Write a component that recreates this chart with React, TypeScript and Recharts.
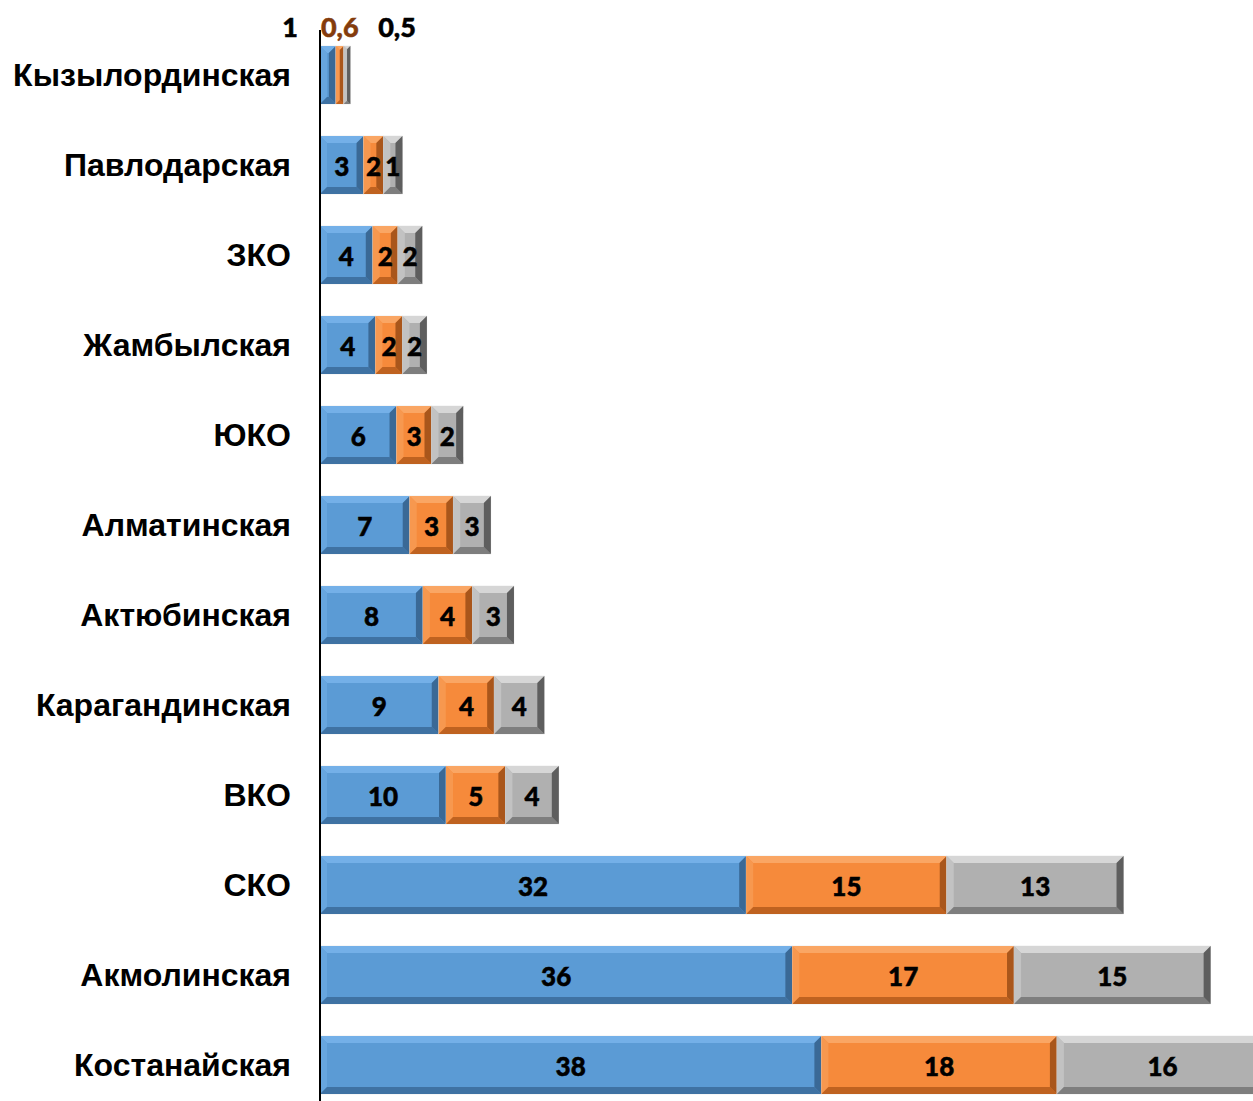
import { Bar, BarChart, LabelList, XAxis, YAxis } from "recharts";

// regions, top to bottom
const regions = [
    "Кызылординская",
    "Павлодарская",
    "ЗКО",
    "Жамбылская",
    "ЮКО",
    "Алматинская",
    "Актюбинская",
    "Карагандинская",
    "ВКО",
    "СКО",
    "Акмолинская",
    "Костанайская",
];

const blueValues = [1.2, 3.3, 4.0, 4.2, 5.8, 6.8, 7.8, 9.0, 9.55, 32.3, 35.8, 38.0];
const orangeValues = [0.6, 1.5, 1.9, 2.05, 2.65, 3.3, 3.75, 4.2, 4.5, 15.2, 16.8, 17.85];
const grayValues = [0.5, 1.45, 1.85, 1.85, 2.4, 2.85, 3.15, 3.8, 4.05, 13.4, 14.9, 16.0];

const data = regions.map((name, i) => ({
    name,
    blue: blueValues[i],
    orange: orangeValues[i],
    gray: grayValues[i],
}));

const palettes = {
    blue: { base: "#5B9BD5", top: "#74B0E8", left: "#67A6DF", bottom: "#3F72A3", right: "#3A6996" },
    orange: { base: "#F68A3B", top: "#FAA664", left: "#F7984F", bottom: "#BF6220", right: "#A9561B" },
    gray: { base: "#B0B0B0", top: "#D6D6D6", left: "#C2C2C2", bottom: "#7E7E7E", right: "#5E5E5E" },
};

const makeBevel = (p) => (props) => {
    const { x, y, width, height } = props;
    if (!width || width <= 0) return null;
    const b = Math.min(7, width / 2, height / 2);
    const x2 = x + width;
    const y2 = y + height;
    return (
        <g>
            <rect x={x} y={y} width={width} height={height} fill={p.base} stroke="#e4e4e4" strokeWidth={0.6} />
            <polygon points={`${x},${y} ${x2},${y} ${x2 - b},${y + b} ${x + b},${y + b}`} fill={p.top} />
            <polygon points={`${x},${y} ${x + b},${y + b} ${x + b},${y2 - b} ${x},${y2}`} fill={p.left} />
            <polygon points={`${x},${y2} ${x + b},${y2 - b} ${x2 - b},${y2 - b} ${x2},${y2}`} fill={p.bottom} />
            <polygon points={`${x2},${y} ${x2},${y2} ${x2 - b},${y2 - b} ${x2 - b},${y + b}`} fill={p.right} />
        </g>
    );
};

const fmt = (v) => (v >= 1 ? String(Math.round(v)) : v.toFixed(1).replace(".", ","));

const makeLabel = (series) => (props) => {
    const { x, y, width, height, value, index } = props;
    const style = { fontFamily: "Lato, 'Open Sans', sans-serif", fontWeight: 900, fontSize: 26 };
    if (index === 0) {
        // first row: labels sit above the thin bar
        let lx = x + width / 2;
        let anchor = "middle";
        let fill = "#000";
        if (series === "blue") {
            lx = x - 22;
            anchor = "end";
        } else if (series === "orange") {
            fill = "#843C0C";
        } else {
            lx = x + width / 2 + 50;
        }
        return (
            <text x={lx} y={y - 20} textAnchor={anchor} dominantBaseline="central" fill={fill} stroke={fill} strokeWidth={0.5} style={{ ...style, fontSize: 27 }}>
                {fmt(value)}
            </text>
        );
    }
    return (
        <text x={x + width / 2} y={y + height / 2 + 1} textAnchor="middle" dominantBaseline="central" fill="#000" stroke="#000" strokeWidth={0.5} style={style}>
            {fmt(value)}
        </text>
    );
};

export default function App() {
    return (
        <div style={{ position: "absolute", left: 8, top: 8, width: 1245, height: 1093, overflow: "hidden" }}>
            <BarChart
                width={1262}
                height={1102}
                data={data}
                layout="vertical"
                margin={{ top: 22, right: 0, bottom: 0, left: 0 }}
                barSize={58}
            >
                <XAxis type="number" hide domain={[0, 72]} />
                <YAxis
                    type="category"
                    dataKey="name"
                    width={312}
                    axisLine={{ stroke: "#000", strokeWidth: 2 }}
                    tickLine={false}
                    tickSize={0}
                    tickMargin={29}
                    tick={{ fill: "#000", fontFamily: "'Liberation Sans', Arial, sans-serif", fontWeight: 700, fontSize: 32 }}
                    interval={0}
                />
                <Bar dataKey="blue" stackId="a" shape={makeBevel(palettes.blue)} isAnimationActive={false}>
                    <LabelList dataKey="blue" content={makeLabel("blue")} />
                </Bar>
                <Bar dataKey="orange" stackId="a" shape={makeBevel(palettes.orange)} isAnimationActive={false}>
                    <LabelList dataKey="orange" content={makeLabel("orange")} />
                </Bar>
                <Bar dataKey="gray" stackId="a" shape={makeBevel(palettes.gray)} isAnimationActive={false}>
                    <LabelList dataKey="gray" content={makeLabel("gray")} />
                </Bar>
            </BarChart>
        </div>
    );
}
